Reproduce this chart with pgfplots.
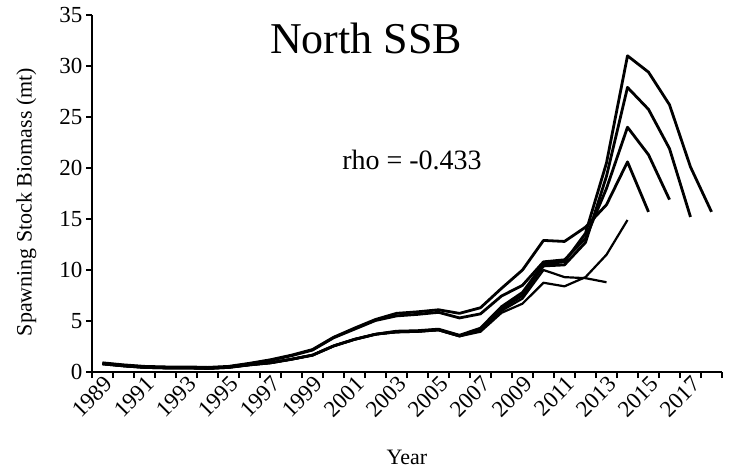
\documentclass[border=0pt]{standalone}
\usepackage{fontspec}
\setmainfont{Liberation Serif}
\usepackage{pgfplots}
\pgfplotsset{compat=1.18}

\begin{document}
\begin{tikzpicture}
\path[use as bounding box] (0,0) rectangle (729pt,472pt);
\begin{axis}[
    at={(92pt,100pt)}, anchor=south west,
    scale only axis,
    width=630pt, height=357pt,
    xmin=1988.5, xmax=2018.5,
    ymin=0, ymax=35,
    axis x line*=bottom, axis y line*=left,
    axis line style={line width=1.3pt},
    tick style={line width=1.3pt, black},
    tick align=outside,
    major tick length=6pt, minor tick length=6pt,
    xtick={1989,1991,...,2017},
    minor xtick={1988.5,1989.5,...,2018.5},
    major x tick style={draw=none},
    ytick={0,5,...,35},
    /pgf/number format/assume math mode=true,
    /pgf/number format/1000 sep={},
    tick label style={font=\fontsize{23}{26}\selectfont},
    xticklabel style={rotate=45, anchor=east, xshift=6pt, yshift=-6pt},
    label style={font=\fontsize{22}{25}\selectfont},
    xlabel={Year},
    xlabel style={at={(axis description cs:0.5,-0.238)}, anchor=center},
    ylabel={Spawning Stock Biomass (mt)},
    ylabel style={at={(axis description cs:-0.104,0.476)}, anchor=center},
  ]
  % A: ends 2018
  \addplot[black, line width=2.8pt, line join=round] coordinates {(1989,0.8) (1990,0.6) (1991,0.45) (1992,0.4) (1993,0.4) (1994,0.35) (1995,0.45) (1996,0.7) (1997,0.9) (1998,1.25) (1999,1.65) (2000,2.55) (2001,3.2) (2002,3.7) (2003,4.0) (2004,4.05) (2005,4.2) (2006,3.6) (2007,4.3) (2008,6.4) (2009,7.8) (2010,10.6) (2011,10.8) (2012,13.6) (2013,20.5) (2014,31.0) (2015,29.4) (2016,26.2) (2017,20.1) (2018,15.7)};
  % B: ends 2017
  \addplot[black, line width=2.8pt, line join=round] coordinates {(1989,0.8) (1990,0.6) (1991,0.45) (1992,0.4) (1993,0.4) (1994,0.35) (1995,0.45) (1996,0.7) (1997,0.9) (1998,1.25) (1999,1.65) (2000,2.55) (2001,3.2) (2002,3.7) (2003,3.95) (2004,4.0) (2005,4.15) (2006,3.55) (2007,4.2) (2008,6.2) (2009,7.5) (2010,10.4) (2011,10.5) (2012,12.7) (2013,19.2) (2014,27.9) (2015,25.75) (2016,21.9) (2017,15.2)};
  % C: ends 2016
  \addplot[black, line width=2.8pt, line join=round] coordinates {(1989,0.85) (1990,0.65) (1991,0.5) (1992,0.45) (1993,0.45) (1994,0.4) (1995,0.5) (1996,0.8) (1997,1.15) (1998,1.6) (1999,2.15) (2000,3.35) (2001,4.2) (2002,5.05) (2003,5.5) (2004,5.65) (2005,5.85) (2006,5.3) (2007,5.7) (2008,7.45) (2009,8.5) (2010,10.8) (2011,11.0) (2012,13.1) (2013,18.0) (2014,24.0) (2015,21.3) (2016,16.9)};
  % D: ends 2015
  \addplot[black, line width=2.8pt, line join=round] coordinates {(1989,0.9) (1990,0.7) (1991,0.55) (1992,0.5) (1993,0.5) (1994,0.45) (1995,0.55) (1996,0.85) (1997,1.2) (1998,1.65) (1999,2.2) (2000,3.4) (2001,4.3) (2002,5.15) (2003,5.75) (2004,5.9) (2005,6.1) (2006,5.75) (2007,6.3) (2008,8.2) (2009,10.0) (2010,12.9) (2011,12.8) (2012,14.2) (2013,16.4) (2014,20.6) (2015,15.7)};
  % E: ends 2014
  \addplot[black, line width=2.2pt, line join=round] coordinates {(1989,0.8) (1990,0.6) (1991,0.45) (1992,0.4) (1993,0.4) (1994,0.35) (1995,0.45) (1996,0.7) (1997,0.9) (1998,1.25) (1999,1.65) (2000,2.55) (2001,3.2) (2002,3.7) (2003,3.9) (2004,3.95) (2005,4.1) (2006,3.5) (2007,3.95) (2008,5.8) (2009,6.7) (2010,8.75) (2011,8.4) (2012,9.3) (2013,11.5) (2014,14.9)};
  % F: ends 2013
  \addplot[black, line width=2.2pt, line join=round] coordinates {(1989,0.8) (1990,0.6) (1991,0.45) (1992,0.4) (1993,0.4) (1994,0.35) (1995,0.45) (1996,0.7) (1997,0.9) (1998,1.25) (1999,1.65) (2000,2.55) (2001,3.2) (2002,3.7) (2003,3.9) (2004,3.95) (2005,4.1) (2006,3.5) (2007,4.1) (2008,6.0) (2009,7.2) (2010,10.0) (2011,9.3) (2012,9.2) (2013,8.8)};

  \node[font=\fontsize{44}{50}\selectfont] at (axis description cs:0.435,0.935) {North SSB};
  \node[font=\fontsize{28}{32}\selectfont] at (axis description cs:0.508,0.594) {rho = -0.433};
\end{axis}
\end{tikzpicture}
\end{document}
